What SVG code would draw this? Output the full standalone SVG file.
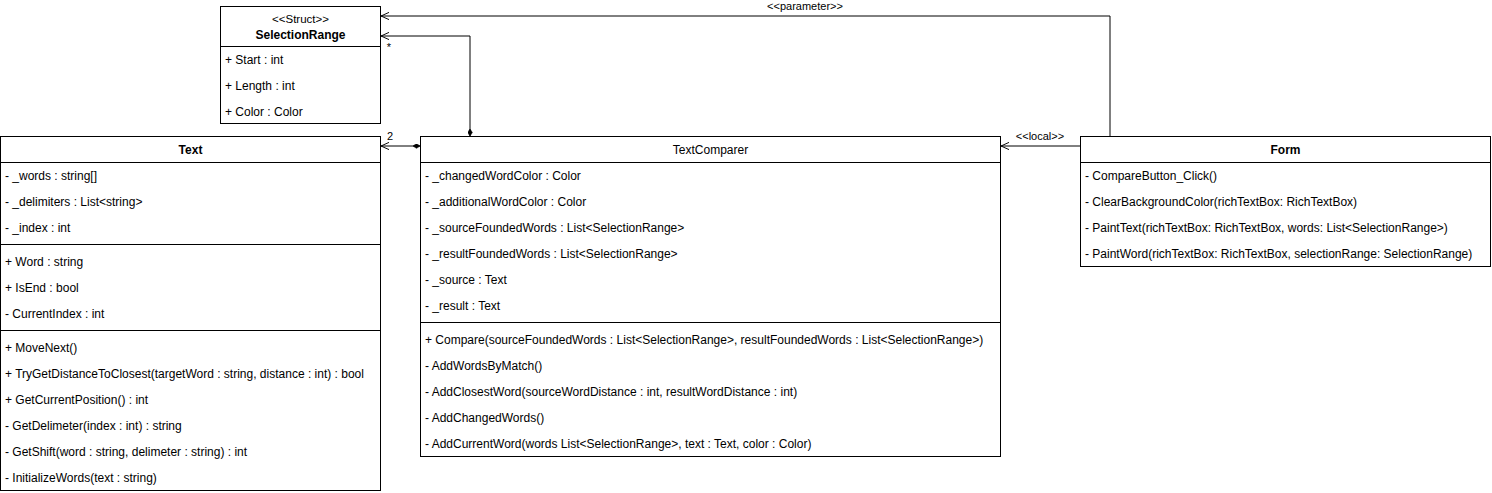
<svg xmlns="http://www.w3.org/2000/svg" width="1492" height="493" viewBox="0 0 1492 493">
<style>
.box{fill:#fff;stroke:#000;stroke-width:1}
.sep{stroke:#000;stroke-width:1}
.t{font-family:"Liberation Sans",Arial,sans-serif;font-size:12px;fill:#000}
.h{font-family:"Liberation Sans",Arial,sans-serif;font-size:12px;fill:#000;text-anchor:middle}
.b{font-weight:bold}
.st{font-family:"Liberation Sans",Arial,sans-serif;font-size:11.5px;fill:#000;text-anchor:middle}
.lbl{font-family:"Liberation Sans",Arial,sans-serif;font-size:11px;fill:#000}
.ln{fill:none;stroke:#000;stroke-width:1}
</style>
<defs>
<marker id="open" viewBox="0 0 10 10" refX="10" refY="5" markerWidth="8" markerHeight="8" markerUnits="userSpaceOnUse" orient="auto">
<path d="M0,0.5 L10,5 L0,9.5" fill="none" stroke="#000" stroke-width="1.2"/>
</marker>
<marker id="dia" viewBox="0 0 12 8" refX="0" refY="4" markerWidth="7" markerHeight="5" markerUnits="userSpaceOnUse" orient="auto">
<path d="M0,4 L6,0 L12,4 L6,8 Z" fill="#000" stroke="#000"/>
</marker>
</defs>

<g id="connectors">
<path class="ln" d="M1110,136 L1110,16 L381,16" marker-end="url(#open)"/>
<text class="lbl" x="805" y="10" text-anchor="middle">&lt;&lt;parameter&gt;&gt;</text>
<path class="ln" d="M470,136 L470,36 L381,36" marker-start="url(#dia)" marker-end="url(#open)"/>
<text class="lbl" x="389" y="51" text-anchor="middle">*</text>
<path class="ln" d="M420,146 L381,146" marker-start="url(#dia)" marker-end="url(#open)"/>
<text class="lbl" x="390" y="140" text-anchor="middle">2</text>
<path class="ln" d="M1080,146 L1001,146" marker-end="url(#open)"/>
<text class="lbl" x="1040" y="140" text-anchor="middle">&lt;&lt;local&gt;&gt;</text>
</g>

<g id="SelectionRange">
<rect class="box" x="220.5" y="6.5" width="160" height="117"/>
<line class="sep" x1="220.5" y1="46.5" x2="380.5" y2="46.5"/>
<text class="st" x="300.5" y="22.5">&lt;&lt;Struct&gt;&gt;</text>
<text class="h b" x="300.5" y="38.5">SelectionRange</text>
<text class="t" x="225" y="64">+ Start : int</text>
<text class="t" x="225" y="90">+ Length : int</text>
<text class="t" x="225" y="116">+ Color : Color</text>
</g>

<g id="Text">
<rect class="box" x="0.5" y="136.5" width="380" height="354"/>
<line class="sep" x1="0.5" y1="162.5" x2="380.5" y2="162.5"/>
<line class="sep" x1="0.5" y1="244.5" x2="380.5" y2="244.5"/>
<line class="sep" x1="0.5" y1="330.5" x2="380.5" y2="330.5"/>
<text class="h b" x="190.5" y="153.5">Text</text>
<text class="t" x="5" y="180">- _words : string[]</text>
<text class="t" x="5" y="206">- _delimiters : List&lt;string&gt;</text>
<text class="t" x="5" y="232">- _index : int</text>
<text class="t" x="5" y="266">+ Word : string</text>
<text class="t" x="5" y="292">+ IsEnd : bool</text>
<text class="t" x="5" y="318">- CurrentIndex : int</text>
<text class="t" x="5" y="352">+ MoveNext()</text>
<text class="t" x="5" y="378">+ TryGetDistanceToClosest(targetWord : string, distance : int) : bool</text>
<text class="t" x="5" y="404">+ GetCurrentPosition() : int</text>
<text class="t" x="5" y="430">- GetDelimeter(index : int) : string</text>
<text class="t" x="5" y="456">- GetShift(word : string, delimeter : string) : int</text>
<text class="t" x="5" y="482">- InitializeWords(text : string)</text>
</g>

<g id="TextComparer">
<rect class="box" x="420.5" y="136.5" width="580" height="320"/>
<line class="sep" x1="420.5" y1="162.5" x2="1000.5" y2="162.5"/>
<line class="sep" x1="420.5" y1="322.5" x2="1000.5" y2="322.5"/>
<text class="h" x="710.5" y="153.5">TextComparer</text>
<text class="t" x="425" y="180">- _changedWordColor : Color</text>
<text class="t" x="425" y="206">- _additionalWordColor : Color</text>
<text class="t" x="425" y="232">- _sourceFoundedWords : List&lt;SelectionRange&gt;</text>
<text class="t" x="425" y="258">- _resultFoundedWords : List&lt;SelectionRange&gt;</text>
<text class="t" x="425" y="284">- _source : Text</text>
<text class="t" x="425" y="310">- _result : Text</text>
<text class="t" x="425" y="344">+ Compare(sourceFoundedWords : List&lt;SelectionRange&gt;, resultFoundedWords : List&lt;SelectionRange&gt;)</text>
<text class="t" x="425" y="370">- AddWordsByMatch()</text>
<text class="t" x="425" y="396">- AddClosestWord(sourceWordDistance : int, resultWordDistance : int)</text>
<text class="t" x="425" y="422">- AddChangedWords()</text>
<text class="t" x="425" y="448">- AddCurrentWord(words List&lt;SelectionRange&gt;, text : Text, color : Color)</text>
</g>

<g id="Form">
<rect class="box" x="1080.5" y="136.5" width="410" height="130"/>
<line class="sep" x1="1080.5" y1="162.5" x2="1490.5" y2="162.5"/>
<text class="h b" x="1285.5" y="153.5">Form</text>
<text class="t" x="1085" y="180">- CompareButton_Click()</text>
<text class="t" x="1085" y="206">- ClearBackgroundColor(richTextBox: RichTextBox)</text>
<text class="t" x="1085" y="232">- PaintText(richTextBox: RichTextBox, words: List&lt;SelectionRange&gt;)</text>
<text class="t" x="1085" y="258">- PaintWord(richTextBox: RichTextBox, selectionRange: SelectionRange)</text>
</g>
</svg>
